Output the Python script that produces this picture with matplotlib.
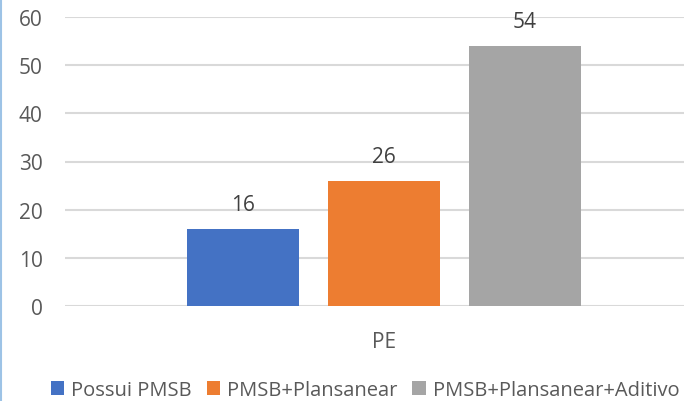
import matplotlib.pyplot as plt
from matplotlib.lines import Line2D

plt.rcParams['font.family'] = ['Open Sans', 'DejaVu Sans']

category = 'PE'
series = ['Possui PMSB', 'PMSB+Plansanear', 'PMSB+Plansanear+Aditivo']
values = [16, 26, 54]
colors = ['#4472C4', '#ED7D31', '#A5A5A5']
offsets = [-0.221, 0.0, 0.221]

text_color = '#595959'
fs = 15

fig = plt.figure(figsize=(6.84, 4.02), dpi=100)
ax = fig.add_axes([65 / 684, 1 - 307 / 402, 638 / 684, (307 - 18) / 402])

bars = []
for name, val, col, off in zip(series, values, colors, offsets):
    b = ax.bar(off, val, width=0.1755, color=col, label=name, zorder=3)
    bars.append(b)
    ax.text(off, val + 5.0, str(val), ha='center', va='center',
            fontsize=fs, color='#404040')

ax.set_xlim(-0.5, 0.5)
ax.set_ylim(0, 60)
ax.set_yticks(range(0, 61, 10))
ax.set_xticks([0])
ax.set_xticklabels([category])
ax.tick_params(axis='y', length=0, pad=16, labelsize=fs, labelcolor=text_color)
ax.tick_params(axis='x', length=0, pad=18, labelsize=fs, labelcolor=text_color)
ax.grid(axis='y', color='#D9D9D9', linewidth=1.5, zorder=0)
for s in ax.spines.values():
    s.set_visible(False)

fig.legend(handles=[b[0] for b in bars], labels=series, loc='center left',
           bbox_to_anchor=(51 / 684, 1 - 391 / 402), ncol=3, frameon=False,
           fontsize=14.5, labelcolor=text_color, handlelength=0.65,
           handleheight=0.65, handletextpad=0.35, columnspacing=0.75,
           borderaxespad=0, borderpad=0)

# thin border on the left edge of the chart area
fig.add_artist(Line2D([0.001, 0.001], [0, 1], transform=fig.transFigure,
                      color='#9DC3E6', linewidth=1.5))

fig.savefig('out.png', dpi=100)
